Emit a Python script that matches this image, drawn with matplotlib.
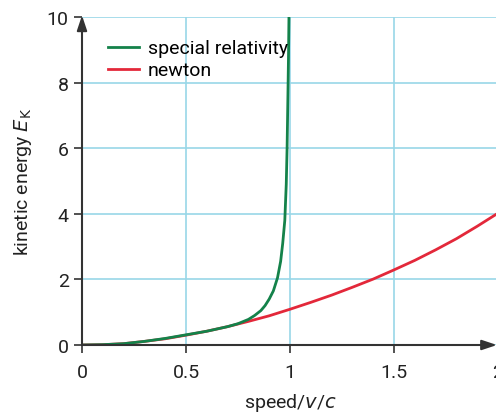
import matplotlib
matplotlib.use("Agg")
import matplotlib.pyplot as plt

# values
speed_rel = [0, 0.1, 0.2, 0.3, 0.4, 0.5, 0.6, 0.7, 0.75, 0.8, 0.83, 0.86,
             0.88, 0.9, 0.92, 0.94, 0.955, 0.965, 0.975, 0.982, 0.986,
             0.99, 0.993, 0.995]
energy_rel = [0, 0.01, 0.04, 0.11, 0.20, 0.31, 0.42, 0.56, 0.65, 0.78, 0.90,
              1.05, 1.2, 1.4, 1.65, 2.05, 2.55, 3.1, 3.8, 4.9, 6.0, 7.6,
              8.9, 10.0]

speed_newton = [0, 0.1, 0.2, 0.3, 0.4, 0.5, 0.6, 0.7, 0.8, 0.9, 1.0, 1.1,
                1.2, 1.3, 1.4, 1.5, 1.6, 1.7, 1.8, 1.9, 2.0]
energy_newton = [0, 0.01, 0.04, 0.11, 0.19, 0.30, 0.42, 0.56, 0.72, 0.89,
                 1.09, 1.30, 1.52, 1.76, 2.01, 2.29, 2.58, 2.90, 3.24, 3.62,
                 4.02]

xticks = [0, 0.5, 1, 1.5, 2]
xticklabels = ["0", "0.5", "1", "1.5", "2"]
yticks = [0, 2, 4, 6, 8, 10]

plt.rcParams["font.family"] = ["Roboto", "DejaVu Sans"]
axcol = "#333333"
gridcol = "#98d7e8"

fig = plt.figure(figsize=(4.96, 4.14), dpi=100)
ax = fig.add_axes([82/496, 1-346/414, 416/496, 328/414])
ax.set_xlim(0, 2)
ax.set_ylim(0, 10)

ax.plot(speed_newton, energy_newton, color="#e3283a", lw=2, label="newton",
        zorder=3)
ax.plot(speed_rel, energy_rel, color="#14824a", lw=2,
        label="special relativity", zorder=4)

ax.set_xticks(xticks)
ax.set_xticklabels(xticklabels)
ax.set_yticks(yticks)
ax.grid(True, color=gridcol, lw=1.2)
ax.set_axisbelow(True)
ax.tick_params(colors=axcol, labelcolor="#222222", labelsize=14, length=6,
               width=1.2, direction="out")
ax.tick_params(axis="x", pad=7)
for s in ax.spines.values():
    s.set_visible(False)

# axis lines with arrow heads
arrow = dict(arrowstyle="-|>,head_width=0.3,head_length=0.9", color=axcol,
             lw=1.5, mutation_scale=10, shrinkA=0, shrinkB=0)
ax.annotate("", xy=(0, 10.05), xytext=(0, 0), xycoords="data",
            arrowprops=arrow, annotation_clip=False, zorder=5)
ax.annotate("", xy=(1.995, 0), xytext=(0, 0), xycoords="data",
            arrowprops=arrow, annotation_clip=False, zorder=5)

ax.set_xlabel("speed/$v$/$c$", fontsize=14, color="#222222", labelpad=7)
ax.set_ylabel("kinetic energy $E_\\mathrm{K}$", fontsize=14,
              color="#222222", labelpad=9)

h, l = ax.get_legend_handles_labels()
ax.legend(h[::-1], l[::-1], loc="upper left", frameon=False, fontsize=14,
          handlelength=1.6, handletextpad=0.45, labelspacing=0.2,
          bbox_to_anchor=(0.02, 0.985))

fig.savefig("out.png", dpi=100)
plt.close(fig)
